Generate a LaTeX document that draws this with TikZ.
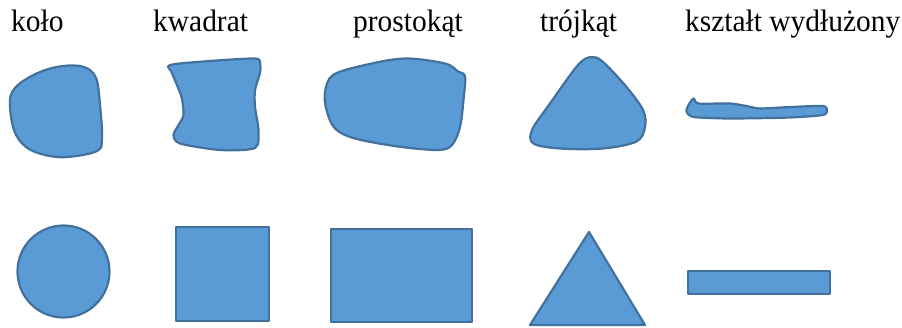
\documentclass[tikz,border=0pt]{standalone}
\usepackage{fontspec}
\setmainfont{Liberation Serif}[FakeStretch=0.95]
\definecolor{shapefill}{HTML}{5B9BD5}
\definecolor{shapeline}{HTML}{41719C}
\begin{document}
\begin{tikzpicture}[x=1pt,y=-1pt,
  shp/.style={fill=shapefill,draw=shapeline,line width=2.2pt,line join=round},
  lbl/.style={anchor=base west,inner sep=0pt,font=\fontsize{31}{36}\selectfont}]
\useasboundingbox (0,0) rectangle (902,327);
% labels
\node[lbl] (l1) at (11,31) {koło};
\node[lbl] (l2) at (153,31) {kwadrat};
\node[lbl] (l3) at (353,31) {prostokąt};
\node[lbl] (l4) at (540,31) {trójkąt};
\node[lbl] (l5) at (685,31) {kształt wydłużony};
% irregular shapes
\draw[shp] plot[smooth cycle,tension=0.6] coordinates {
  (10,100) (18,85) (40,72) (63,66) (84,67) (96,78) (100,105) (102,138)
  (97,151) (67,157) (45,155) (26,147) (14,130)};
\draw[shp] plot[smooth cycle,tension=0.45] coordinates {
  (170,65) (210,61) (255,58.5) (260,63) (260,73) (255,90) (255,107) (258.5,130)
  (255,148) (220,150) (180,143.5) (173.5,135) (178.5,125) (183.5,115) (181.5,97) (172,73)};
\draw[shp] plot[smooth cycle,tension=0.55] coordinates {
  (325,92) (333,75) (365,65) (405,58.5) (445,63.5) (458,71.5) (465,76.5)
  (463.5,100) (460,127) (452,145) (438,150) (398,146.5) (355,138.5) (335,128.5) (326.5,110)};
\draw[shp] plot[smooth cycle,tension=0.55] coordinates {
  (591.5,57) (603,62) (626.5,87) (643,110) (645,127) (636.5,141.5) (603,148.5)
  (560,148.5) (533.5,143.5) (532,130) (550,103.5) (578,65)};
\draw[shp] plot[smooth cycle,tension=0.4] coordinates {
  (693.5,98.5) (698.5,103.5) (730,103.5) (746.5,106) (760,108.5) (790,107) (823,106)
  (827,110.5) (823,115) (790,117.5) (730,118.5) (693.5,117) (686.5,111.5) (688.5,105)};
% regular shapes
\draw[shp] (63.5,271.5) circle[radius=46];
\draw[shp] (176,227) rectangle (269,321);
\draw[shp] (331,229) rectangle (472,322);
\draw[shp] (589,232) -- (645,325) -- (530,325) -- cycle;
\draw[shp] (688,271) rectangle (830,294);
\end{tikzpicture}
\end{document}
